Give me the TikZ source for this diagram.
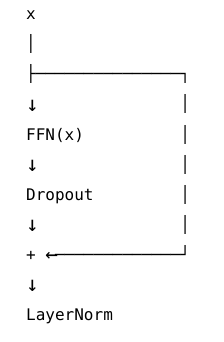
\documentclass[tikz,border=0pt]{standalone}
\usepackage{fontspec}
\setmonofont{DejaVu Sans Mono}
\newcommand\bigarrow[1]{\makebox[9.63pt][l]{\raisebox{-1.2pt}{\fontsize{21}{16}\selectfont #1}}}
\begin{document}
\begin{tikzpicture}[x=1pt,y=-1pt,
  row/.style={anchor=base west,inner sep=0pt,font=\ttfamily\fontsize{16}{16}\selectfont}]
\useasboundingbox (0,0) rectangle (224,342);
% left column
\node[row] (inp) at (26,20) {x};
\node[row] (bar) at (26,50) {│};
\node[row] (split) at (26,80) {├───────────────┐};
\node[row] (a1) at (26,110) {\bigarrow{↓}};
\node[row] (ffn) at (26,140) {FFN(x)};
\node[row] (a2) at (26,170) {\bigarrow{↓}};
\node[row] (drop) at (26,200) {Dropout};
\node[row] (a3) at (26,230) {\bigarrow{↓}};
\node[row] (add) at (26,260) {+ \bigarrow{←}─────────────┘};
\node[row] (a4) at (26,290) {\bigarrow{↓}};
\node[row] (norm) at (26,320) {LayerNorm};
% skip column
\foreach \y/\n in {110/r1,140/r2,170/r3,200/r4,230/r5}
  \node[row] (\n) at (180.1,\y) {│};
\end{tikzpicture}
\end{document}
